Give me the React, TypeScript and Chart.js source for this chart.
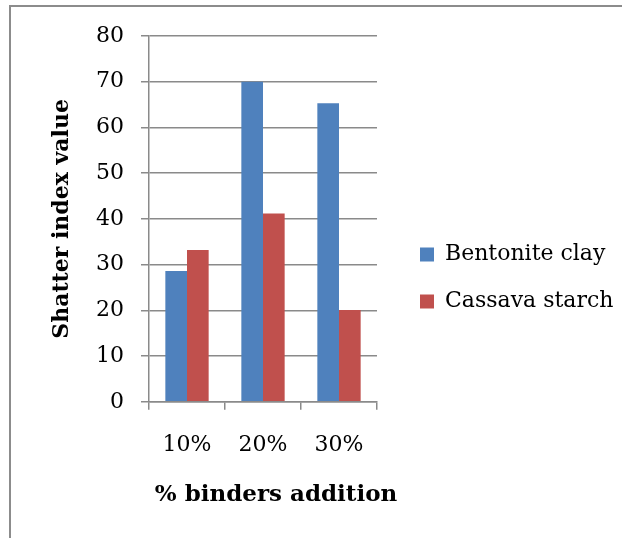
import React, { useEffect, useRef } from "react";
import { Chart, registerables } from "chart.js";

Chart.register(...registerables);

const categories = ["10%", "20%", "30%"];
const bentoniteClay = [28.6, 70.0, 65.3];
const cassavaStarch = [33.2, 41.2, 20.1];
const yTicks = { min: 0, max: 80, step: 10 };

const seriesNames = ["Bentonite clay", "Cassava starch"];
const xTitle = "% binders addition";
const yTitle = "Shatter index value";

const GRID = "#8a8a8a";
const FONT = "'DejaVu Serif', serif";

const framePlugin = {
  id: "frame",
  beforeDraw(chart: any) {
    const ctx = chart.ctx;
    ctx.save();
    ctx.fillStyle = "#ffffff";
    ctx.fillRect(0, 0, chart.width, chart.height);
    ctx.strokeStyle = "#8c8c8c";
    ctx.lineWidth = 2;
    ctx.beginPath();
    ctx.moveTo(10, chart.height);
    ctx.lineTo(10, 6);
    ctx.lineTo(chart.width, 6);
    ctx.stroke();
    ctx.restore();
  },
  afterDraw(chart: any) {
    const ctx = chart.ctx;
    const xs = chart.scales.x;
    ctx.save();
    ctx.fillStyle = "#000";
    ctx.font = `bold 23px ${FONT}`;
    ctx.textAlign = "center";
    ctx.textBaseline = "middle";
    ctx.fillText(xTitle, (xs.left + xs.right) / 2 + 13, xs.bottom - 13.8);
    ctx.restore();
  },
};

export default function App() {
  const ref = useRef<HTMLCanvasElement | null>(null);

  useEffect(() => {
    if (!ref.current) return;
    const chart = new Chart(ref.current, {
      type: "bar",
      data: {
        labels: categories,
        datasets: [
          {
            label: seriesNames[0],
            data: bentoniteClay,
            backgroundColor: "#4F81BD",
            borderWidth: 0,
            categoryPercentage: 0.57,
            barPercentage: 1.0,
          },
          {
            label: seriesNames[1],
            data: cassavaStarch,
            backgroundColor: "#C0504D",
            borderWidth: 0,
            categoryPercentage: 0.57,
            barPercentage: 1.0,
          },
        ],
      },
      options: {
        responsive: false,
        animation: false,
        layout: { padding: { top: 36, right: 0, bottom: 29, left: 0 } },
        plugins: {
          tooltip: { enabled: false },
          legend: {
            position: "right",
            maxWidth: 227,
            title: { display: true, text: "", padding: 0, font: { size: 11, lineHeight: 1 } },
            labels: {
              boxWidth: 14,
              boxHeight: 14,
              padding: 25,
              color: "#000",
              font: { family: FONT, size: 22 },
            },
          },
        },
        scales: {
          x: {
            grid: {
              display: true,
              drawOnChartArea: false,
              drawTicks: true,
              tickLength: 8,
              color: GRID,
              lineWidth: 1.5,
              offset: true,
            },
            border: { display: true, color: GRID, width: 1.5 },
            ticks: {
              color: "#000",
              padding: 22,
              font: { family: FONT, size: 22 },
            },
            title: { display: false },
            afterFit(scale: any) {
              scale.height = 107.2;
            },
          },
          y: {
            min: yTicks.min,
            max: yTicks.max,
            grid: {
              color: GRID,
              lineWidth: 1.5,
              drawTicks: true,
              tickLength: 8,
            },
            border: { display: true, color: GRID, width: 1.5 },
            ticks: {
              stepSize: yTicks.step,
              color: "#000",
              padding: 17,
              font: { family: FONT, size: 22 },
            },
            title: {
              display: true,
              text: yTitle,
              color: "#000",
              padding: { top: 49, bottom: 0 },
              font: { family: FONT, size: 22, weight: "bold" },
            },
            afterFit(scale: any) {
              scale.width = 149;
            },
          },
          y2: {
            position: "right",
            display: true,
            grid: { display: false, drawTicks: false },
            border: { display: false },
            ticks: { display: false },
            title: { display: false },
            afterFit(scale: any) {
              scale.width = 18;
            },
          },
        },
      },
      plugins: [framePlugin],
    } as any);
    return () => chart.destroy();
  }, []);

  return (
    <canvas
      ref={ref}
      width={622}
      height={538}
      style={{ position: "absolute", left: 0, top: 0, width: 622, height: 538 }}
    />
  );
}
